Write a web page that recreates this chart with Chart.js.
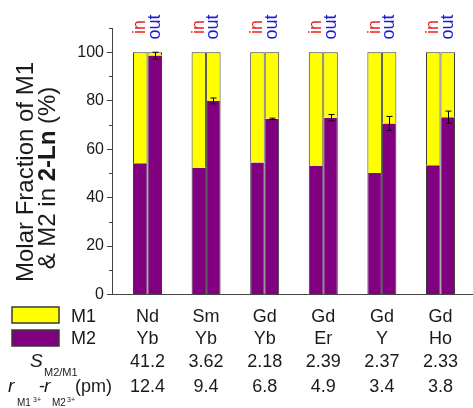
<!DOCTYPE html>
<html>
<head>
<meta charset="utf-8">
<script src="https://cdn.jsdelivr.net/npm/chart.js@4"></script>
<style>
  html, body { margin: 0; padding: 0; background: #fff; }
  #wrap { width: 473px; height: 408px; position: relative; }
</style>
</head>
<body>
<div id="wrap"><canvas id="fractionChart"></canvas></div>
<script>
/* ── Data ─────────────────────────────────────────────────── */
const metalM1   = ['Nd', 'Sm', 'Gd', 'Gd', 'Gd', 'Gd'];
const metalM2   = ['Yb', 'Yb', 'Yb', 'Er', 'Y', 'Ho'];
const selectivity = ['41.2', '3.62', '2.18', '2.39', '2.37', '2.33'];
const radiusDiff  = ['12.4', '9.4', '6.8', '4.9', '3.4', '3.8'];

const m2In   = [54.2, 52.3, 54.5, 53.0, 50.1, 53.3];
const m1In   = [45.8, 47.7, 45.5, 47.0, 49.9, 46.7];
const m2Out  = [98.6, 79.9, 72.5, 73.0, 70.6, 73.2];
const m1Out  = [1.4, 20.1, 27.5, 27.0, 29.4, 26.8];
const outErr = [1.4, 1.2, 0.3, 1.3, 2.9, 2.5];

const yMajor = [0, 20, 40, 60, 80, 100];

/* ── Palette ──────────────────────────────────────────────── */
const colors = {
    m1: '#ffff00',
    m2: '#800080',
    edge: '#3a3a3a',
    axis: '#444444',
    text: '#1a1a1a',
    inTxt: '#ee1c1c',
    outTxt: '#1b1bdd',
};
const FONT = '"Liberation Sans", Arial, sans-serif';

const pts = arr => arr.map((v, i) => ({ x: i + 1, y: v }));

function barSet(label, values, color, stack, top) {
    return {
        label,
        data: pts(values),
        backgroundColor: color,
        borderColor: colors.edge,
        borderWidth: { left: 1, right: 1, top: top ? 1 : 0, bottom: 0 },
        borderSkipped: false,
        stack,
        categoryPercentage: 0.495,
        barPercentage: 1,
    };
}

/* ── Plugins: axis title, in/out tags, error bars, table ──── */
const decorations = {
    id: 'decorations',
    afterDatasetsDraw(chart) {
        const { ctx, scales: { x, y } } = chart;
        // error bars on the "out" M2 segment
        const meta = chart.getDatasetMeta(2);
        ctx.save();
        ctx.strokeStyle = '#000';
        ctx.lineWidth = 1;
        meta.data.forEach((bar, i) => {
            const cx = Math.round(bar.x) + 0.5;
            const y1 = y.getPixelForValue(m2Out[i] + outErr[i]);
            const y2 = y.getPixelForValue(m2Out[i] - outErr[i]);
            ctx.beginPath();
            ctx.moveTo(cx, y1); ctx.lineTo(cx, y2);
            ctx.moveTo(cx - 3, y1); ctx.lineTo(cx + 3, y1);
            ctx.moveTo(cx - 3, y2); ctx.lineTo(cx + 3, y2);
            ctx.stroke();
        });
        ctx.restore();
    },
    afterDraw(chart) {
        const { ctx, scales: { x, y } } = chart;
        ctx.save();

        // minor ticks
        ctx.strokeStyle = colors.axis;
        ctx.lineWidth = 1;
        for (let v = 10; v <= 110; v += 20) {
            const py = Math.round(y.getPixelForValue(v)) + 0.5;
            ctx.beginPath();
            ctx.moveTo(x.left - 3, py); ctx.lineTo(x.left, py);
            ctx.stroke();
        }

        // y axis title (two rotated lines)
        ctx.fillStyle = colors.text;
        ctx.textBaseline = 'alphabetic';
        ctx.save();
        ctx.translate(33, 172);
        ctx.rotate(-Math.PI / 2);
        ctx.font = `24px ${FONT}`;
        ctx.textAlign = 'center';
        ctx.fillText('Molar Fraction of M1', 0, 0);
        ctx.restore();

        const parts = [
            { t: '& M2 in ', f: `24px ${FONT}` },
            { t: '2-Ln', f: `bold 24px ${FONT}` },
            { t: ' (%)', f: `24px ${FONT}` },
        ];
        let total = 0;
        parts.forEach(p => { ctx.font = p.f; p.w = ctx.measureText(p.t).width; total += p.w; });
        ctx.save();
        ctx.translate(55, 178);
        ctx.rotate(-Math.PI / 2);
        ctx.textAlign = 'left';
        let px = -total / 2;
        parts.forEach(p => { ctx.font = p.f; ctx.fillText(p.t, px, 0); px += p.w; });
        ctx.restore();

        // in / out tags above bars
        ctx.font = `18px ${FONT}`;
        ctx.textAlign = 'center';
        ctx.textBaseline = 'middle';
        [[0, 'in', colors.inTxt], [2, 'out', colors.outTxt]].forEach(([ds, word, col]) => {
            chart.getDatasetMeta(ds).data.forEach(bar => {
                ctx.save();
                ctx.translate(bar.x, 27);
                ctx.rotate(-Math.PI / 2);
                ctx.fillStyle = col;
                ctx.fillText(word, 0, 0);
                ctx.restore();
            });
        });

        // legend swatches
        ctx.lineWidth = 1.5;
        ctx.strokeStyle = colors.edge;
        ctx.fillStyle = colors.m1;
        ctx.fillRect(12, 307, 47, 16); ctx.strokeRect(12, 307, 47, 16);
        ctx.fillStyle = colors.m2;
        ctx.fillRect(12, 330, 47, 16); ctx.strokeRect(12, 330, 47, 16);

        ctx.fillStyle = colors.text;
        ctx.textBaseline = 'alphabetic';
        ctx.font = `18px ${FONT}`;
        ctx.textAlign = 'left';
        ctx.fillText('M1', 71, 322);
        ctx.fillText('M2', 71, 344);

        // row labels with sub/superscripts
        ctx.font = `italic 19px ${FONT}`;
        ctx.fillText('S', 30, 367);
        ctx.font = `11px ${FONT}`;
        ctx.fillText('M2/M1', 44, 376);

        ctx.font = `italic 19px ${FONT}`;
        ctx.fillText('r', 8, 392);
        ctx.font = `10px ${FONT}`;
        ctx.fillText('M1', 17, 406);
        ctx.font = `7px ${FONT}`;
        ctx.fillText('3+', 33, 402);
        ctx.font = `18px ${FONT}`;
        ctx.fillText('-', 39, 392);
        ctx.font = `italic 19px ${FONT}`;
        ctx.fillText('r', 44, 392);
        ctx.font = `10px ${FONT}`;
        ctx.fillText('M2', 52, 406);
        ctx.font = `7px ${FONT}`;
        ctx.fillText('3+', 67, 402);
        ctx.font = `18px ${FONT}`;
        ctx.fillText('(pm)', 75, 392);

        // table columns
        ctx.textAlign = 'center';
        ctx.font = `18px ${FONT}`;
        metalM1.forEach((m, i) => {
            const cx = x.getPixelForValue(i + 1);
            ctx.fillText(m, cx, 322);
            ctx.fillText(metalM2[i], cx, 344);
            ctx.fillText(selectivity[i], cx, 367);
            ctx.fillText(radiusDiff[i], cx, 392);
        });

        ctx.restore();
    },
};

/* ── Chart ────────────────────────────────────────────────── */
new Chart(document.getElementById('fractionChart'), {
    type: 'bar',
    data: {
        datasets: [
            barSet('M2 in',  m2In,  colors.m2, 'in',  false),
            barSet('M1 in',  m1In,  colors.m1, 'in',  true),
            barSet('M2 out', m2Out, colors.m2, 'out', false),
            barSet('M1 out', m1Out, colors.m1, 'out', true),
        ],
    },
    options: {
        responsive: true,
        maintainAspectRatio: false,
        animation: false,
        layout: { padding: { left: 0, right: 0, top: 28, bottom: 113.5 } },
        plugins: {
            legend: { display: false },
            tooltip: { enabled: false },
        },
        scales: {
            x: {
                type: 'linear',
                stacked: true,
                min: 0.394,
                max: 6.555,
                offset: false,
                ticks: { display: false },
                grid: { display: false },
                border: { display: true, color: colors.axis, width: 1 },
                afterFit(s) { s.height = 0; },
            },
            y: {
                stacked: true,
                min: 0,
                max: 110,
                ticks: {
                    stepSize: 10,
                    padding: 3,
                    color: colors.text,
                    font: { family: FONT, size: 16 },
                    callback: v => (yMajor.includes(v) ? String(v) : ''),
                },
                grid: {
                    drawOnChartArea: false,
                    tickLength: 5,
                    tickColor: c => (c.tick && yMajor.includes(c.tick.value) ? colors.axis : 'rgba(0,0,0,0)'),
                },
                border: { display: true, color: colors.axis, width: 1 },
                afterFit(s) { s.width = 112; },
            },
        },
    },
    plugins: [decorations],
});
</script>
</body>
</html>
